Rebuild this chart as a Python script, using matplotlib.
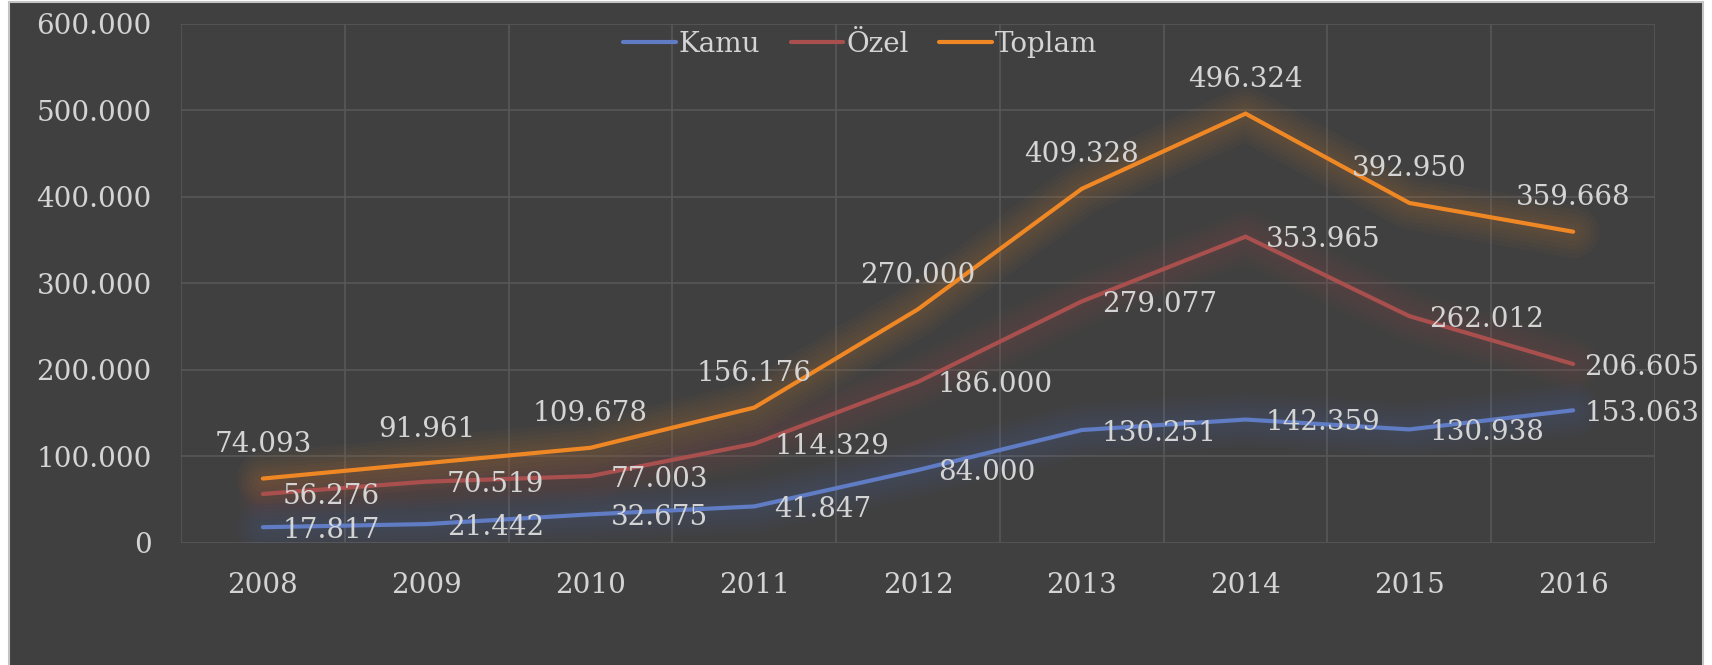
import matplotlib.pyplot as plt
import matplotlib.patheffects as pe
from matplotlib.patches import Rectangle
from matplotlib.ticker import FuncFormatter, MultipleLocator

# data
years = ["2008", "2009", "2010", "2011", "2012", "2013", "2014", "2015", "2016"]
kamu = [17817, 21442, 32675, 41847, 84000, 130251, 142359, 130938, 153063]
ozel = [56276, 70519, 77003, 114329, 186000, 279077, 353965, 262012, 206605]
toplam = [74093, 91961, 109678, 156176, 270000, 409328, 496324, 392950, 359668]

bg = "#404040"
txt = "#d4d4d4"
grid = "#575757"
c_kamu = "#5f7cc4"
c_ozel = "#a9504f"
c_top = "#ef8824"

plt.rcParams["font.family"] = ["DejaVu Serif"]


def dots(v):
    return f"{v:,.0f}".replace(",", ".")


def main():
    fig = plt.figure(figsize=(17.12, 6.65), dpi=100, facecolor="white")
    # dark chart panel with light border (left, top, right)
    fig.patches.append(Rectangle((9 / 1712, -0.01), 1694 / 1712, 1.007,
                                 transform=fig.transFigure, facecolor=bg,
                                 edgecolor="#c4c4c4", lw=1.5, zorder=-10))
    ax = fig.add_axes([181 / 1712, 122.4 / 665, 1474 / 1712, 518.6 / 665])
    ax.set_facecolor(bg)

    x = list(range(len(years)))
    series = [(kamu, c_kamu, "Kamu"), (ozel, c_ozel, "Özel"), (toplam, c_top, "Toplam")]

    # soft glow underneath
    for vals, col, _ in series:
        glow = [pe.Stroke(linewidth=w, foreground=col, alpha=0.03) for w in (38, 32, 26, 20, 14, 9)]
        ax.plot(x, vals, color=col, lw=3, alpha=0.0, path_effects=glow,
                solid_capstyle="round", zorder=2)
    for vals, col, name in series:
        ax.plot(x, vals, color=col, lw=3, label=name, solid_capstyle="round",
                solid_joinstyle="miter", zorder=3)

    fs = 20
    for i, v in enumerate(toplam):
        ax.annotate(dots(v), (i, v), xytext=(0, 34), textcoords="offset pixels",
                    ha="center", va="center", color=txt, fontsize=fs, zorder=5)
    last = len(years) - 1
    for vals in (ozel, kamu):
        for i, v in enumerate(vals):
            # last labels get pushed in to stay inside the chart
            dx = 11 if i == last else 20
            ax.annotate(dots(v), (i, v), xytext=(dx, -3), textcoords="offset pixels",
                        ha="left", va="center", color=txt, fontsize=fs, zorder=5,
                        annotation_clip=False)

    ax.set_xlim(-0.5, 8.5)
    ax.set_ylim(0, 600000)
    ax.set_xticks(x)
    ax.set_xticklabels(years)
    ax.xaxis.set_minor_locator(MultipleLocator(1, offset=0.5))
    ax.yaxis.set_major_locator(MultipleLocator(100000))
    ax.yaxis.set_major_formatter(FuncFormatter(lambda v, p: dots(v)))
    ax.grid(True, which="major", axis="y", color=grid, lw=1.2)
    ax.grid(True, which="minor", axis="x", color=grid, lw=1.2)
    ax.set_axisbelow(True)
    for s in ax.spines.values():
        s.set_visible(False)
    ax.tick_params(axis="both", which="both", length=0, colors=txt, labelsize=fs)
    ax.tick_params(axis="y", pad=21)
    ax.tick_params(axis="x", pad=21)

    fig.legend(loc="center", bbox_to_anchor=(860 / 1712, 1 - 44 / 665), ncol=3,
               frameon=False, fontsize=fs, labelcolor=txt, handlelength=1.9,
               handletextpad=0.1, columnspacing=1.1)

    fig.savefig("out.png", dpi=100, facecolor="white")


if __name__ == "__main__":
    main()
